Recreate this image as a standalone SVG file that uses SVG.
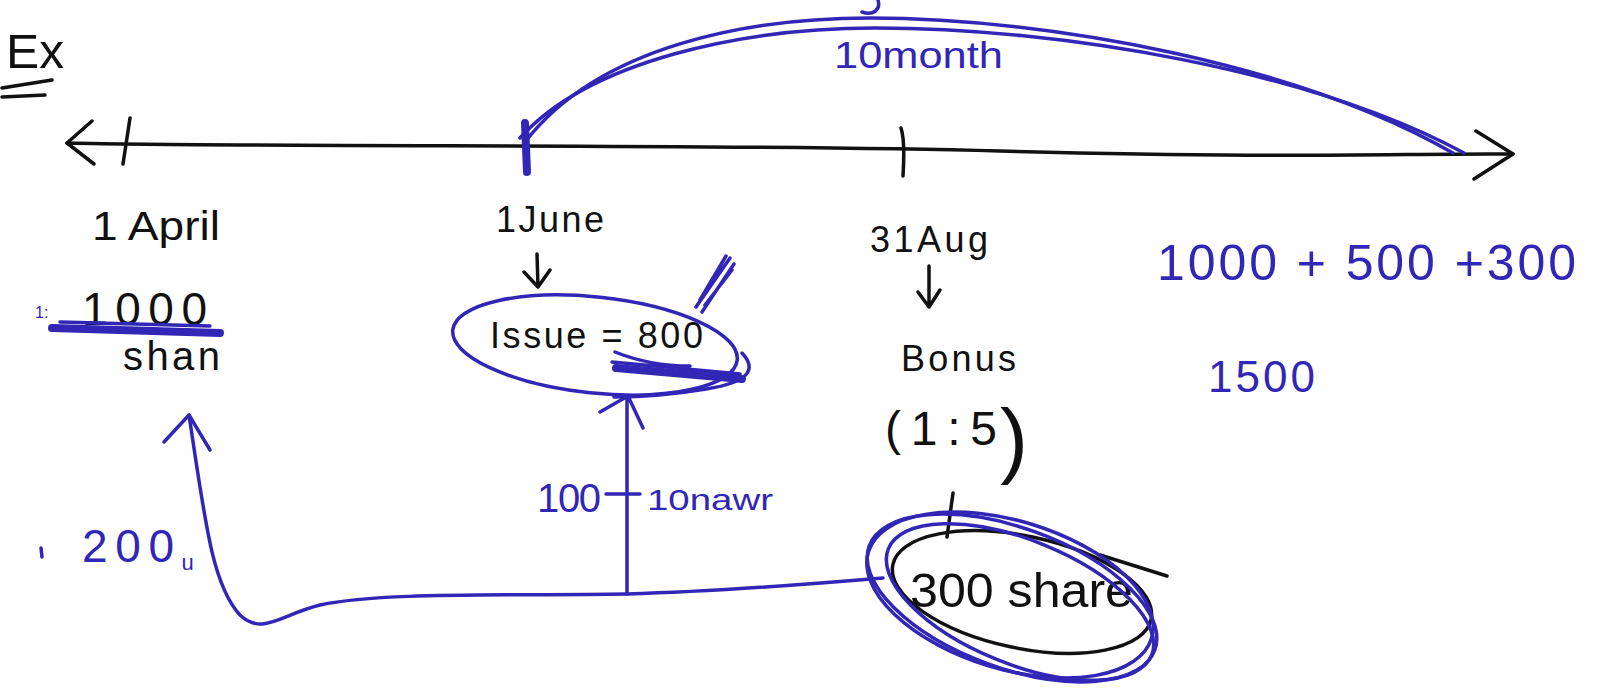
<svg xmlns="http://www.w3.org/2000/svg" width="1605" height="692" viewBox="0 0 1605 692">
<style>
.k{fill:none;stroke:#111;stroke-width:3.5;stroke-linecap:round;stroke-linejoin:round}
.b{fill:none;stroke:#3226b6;stroke-width:3.5;stroke-linecap:round;stroke-linejoin:round}
.bt{fill:none;stroke:#3226b6;stroke-width:8;stroke-linecap:round}
.tk{font-family:"Liberation Sans",Arial,sans-serif;fill:#111}
.tb{font-family:"Liberation Sans",Arial,sans-serif;fill:#3226b6}
</style>
<rect width="1605" height="692" fill="#fff"/>
<g id="title">
<text class="tk" x="6" y="68" font-size="48" textLength="58" lengthAdjust="spacingAndGlyphs">Ex</text>
<path class="k" d="M2 88 L52 80 M2 97 L45 95"/>
</g>
<g id="connectors">
<path class="k" d="M67 143 C300 148 700 143 1000 151 S1400 153 1513 154"/>
<path class="k" d="M92 121 L67 143 L94 164 M1476 131 L1513 154 L1474 179"/>
<path class="k" d="M130 118 L123 164 M901 128 C905 140 904 160 903 176"/>
<path class="bt" d="M525 123 L527 172"/>
<path class="b" d="M525 142 C600 45 750 18 870 18 C1050 18 1300 65 1453 153"/>
<path class="b" d="M520 138 C590 60 745 28 875 28 C1060 28 1310 70 1464 153"/>
<path class="b" d="M878 0 C881 10 873 16 862 12"/>
<path class="k" d="M537 254 L538 287 M524 272 L538 287 L550 270"/>
<path class="k" d="M929 266 L929 307 M918 292 L929 307 L940 290"/>
<path class="k" d="M953 493 L947 537"/>
<path class="b" d="M883 578 C800 585 700 592 627 594 C500 596 380 592 320 605 C280 615 262 636 240 615 C212 585 205 520 189 415"/>
<path class="b" d="M164 442 L189 415 L210 450"/>
<path class="b" d="M627 594 L627 399 M600 412 L628 396 L643 428"/>
<path class="b" d="M606 494 L640 494"/>
<path class="b" d="M41 548 L42 557"/>
</g>
<g id="months">
<text class="tb" x="834" y="68" font-size="36" textLength="169" lengthAdjust="spacingAndGlyphs">10month</text>
</g>
<g id="april">
<text class="tk" x="92" y="240" font-size="40" textLength="128" lengthAdjust="spacingAndGlyphs">1 April</text>
<text class="tk" x="82" y="325" font-size="46" textLength="125" lengthAdjust="spacing">1000</text>
<path class="bt" d="M52 328 L220 333" stroke-width="7"/>
<path class="b" d="M60 322 L210 326"/>
<text class="tb" x="35" y="318" font-size="16">1:</text>
<text class="tk" x="123" y="370" font-size="40" textLength="97" lengthAdjust="spacing">shan</text>
</g>
<g id="june">
<text class="tk" x="496" y="232" font-size="36" textLength="108" lengthAdjust="spacing">1June</text>
<ellipse class="b" cx="595" cy="345" rx="143" ry="48" transform="rotate(6 595 345)"/>
<path class="b" d="M742 353 C756 368 752 382 706 389 C670 395 640 397 614 397"/>
<text class="tk" x="490" y="348" font-size="36" textLength="213" lengthAdjust="spacing">Issue = 800</text>
<path class="bt" d="M616 368 L742 379" stroke-width="6"/>
<path class="b" d="M612 362 L740 374 M615 352 C640 362 665 366 690 366"/>
<path class="b" d="M696 307 L730 258 M702 312 L734 264 M700 300 L726 256 M705 305 L732 270" stroke-width="6"/>
</g>
<g id="arrowlabels">
<text class="tb" x="537" y="512" font-size="40" textLength="64" lengthAdjust="spacing">100</text>
<text class="tb" x="647" y="510" font-size="30" textLength="126" lengthAdjust="spacingAndGlyphs">10nawr</text>
<text class="tb" x="82" y="562" font-size="46"><tspan textLength="92" lengthAdjust="spacing">200</tspan><tspan font-size="22" dy="8">u</tspan></text>
</g>
<g id="aug">
<text class="tk" x="870" y="252" font-size="36" textLength="118" lengthAdjust="spacing">31Aug</text>
<text class="tk" x="901" y="371" font-size="36" textLength="115" lengthAdjust="spacing">Bonus</text>
<text class="tk" x="885" y="445" font-size="48"><tspan textLength="112" lengthAdjust="spacing">(1:5</tspan><tspan x="1000" y="468" font-size="84">)</tspan></text>
</g>
<g id="bonus">
<ellipse class="k" cx="1022" cy="592" rx="132" ry="56" transform="rotate(12 1022 592)"/>
<path class="k" d="M1100 555 L1167 576"/>
<text class="tk" x="910" y="607" font-size="48" textLength="223" lengthAdjust="spacingAndGlyphs">300 share</text>
<ellipse class="b" cx="1012" cy="598" rx="152" ry="70" transform="rotate(20 1012 598)"/>
<ellipse class="b" cx="1020" cy="602" rx="142" ry="62" transform="rotate(22 1020 602)"/>
<ellipse class="b" cx="1010" cy="595" rx="148" ry="74" transform="rotate(17 1010 595)"/>
</g>
<g id="sum">
<text class="tb" x="1157" y="280" font-size="50" textLength="419" lengthAdjust="spacing">1000 + 500 +300</text>
<text class="tb" x="1208" y="392" font-size="44" textLength="107" lengthAdjust="spacing">1500</text>
</g>
</svg>
